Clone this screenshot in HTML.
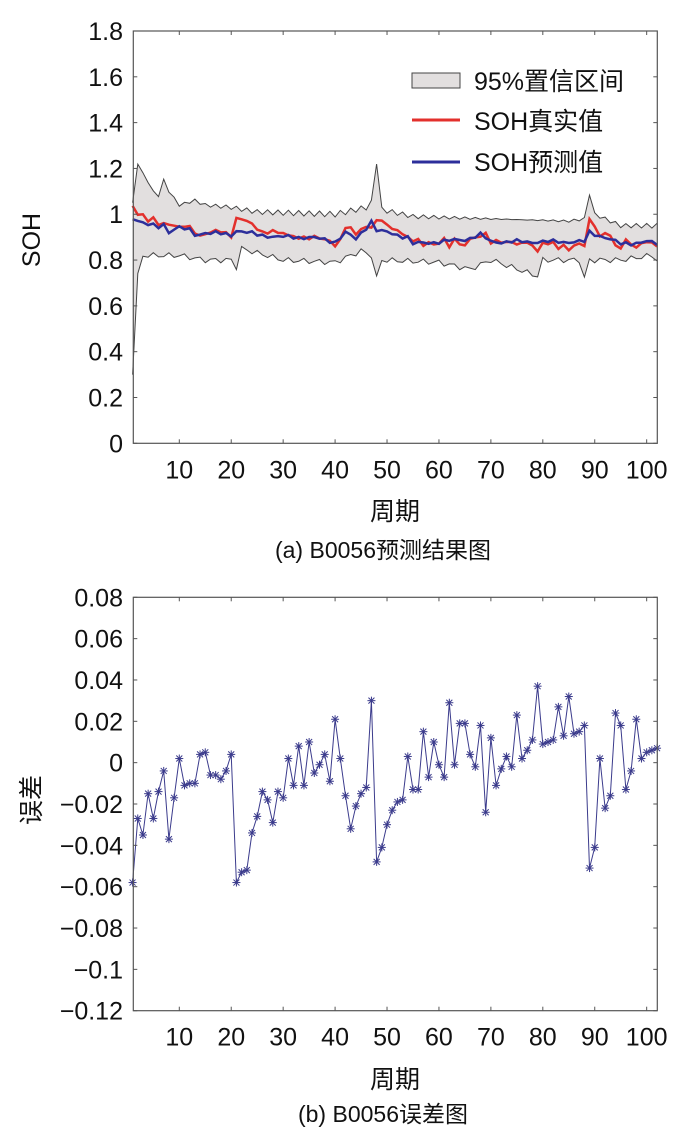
<!DOCTYPE html>
<html><head><meta charset="utf-8"><style>
html,body{margin:0;padding:0;background:#fff;}
svg{display:block;font-family:"Liberation Sans","Noto Sans CJK SC",sans-serif;}
</style></head><body>
<svg id="s" width="700" height="1129" viewBox="0 0 700 1129" xmlns="http://www.w3.org/2000/svg"></svg>
<script>
const S=document.getElementById('s');
let h='';
const L=133.3,R=657.3;
const X=i=>179.3+(i-10)*5.193;
const T0=31,B0=443.3;const Y1=v=>B0-v*(B0-T0)/1.8;
const T1=597.3,B1=1010.7;const Y2=v=>T1+(0.08-v)*(B1-T1)/0.2;
const err=[-0.058,-0.027,-0.035,-0.015,-0.027,-0.014,-0.004,-0.037,-0.017,0.002,-0.011,-0.010,-0.010,0.004,0.005,-0.006,-0.006,-0.008,-0.004,0.004,-0.058,-0.053,-0.052,-0.034,-0.026,-0.014,-0.018,-0.029,-0.014,-0.017,0.002,-0.011,0.008,-0.011,0.010,-0.005,-0.001,0.004,-0.009,0.021,0.002,-0.016,-0.032,-0.021,-0.015,-0.012,0.030,-0.048,-0.041,-0.030,-0.023,-0.019,-0.018,0.003,-0.013,-0.013,0.015,-0.007,0.010,-0.001,-0.007,0.029,-0.001,0.019,0.019,0.004,-0.002,0.018,-0.024,0.012,-0.011,-0.003,0.003,-0.002,0.023,0.002,0.006,0.011,0.037,0.009,0.010,0.011,0.027,0.013,0.032,0.014,0.015,0.018,-0.051,-0.041,0.002,-0.022,-0.016,0.024,0.018,-0.013,-0.004,0.021,0.002,0.005,0.006,0.007];
const N=err.length;
const kb=[[1,0.98],[2,0.98],[3,0.96],[5,0.95],[6,0.94],[7,0.96],[8,0.92],[9,0.94],[10,0.94],[12,0.93],[13,0.91],[15,0.92],[20,0.91],[21,0.93],[25,0.91],[30,0.90],[35,0.90],[40,0.88],[42,0.92],[44,0.89],[47,0.97],[48,0.93],[50,0.92],[54,0.9],[55,0.87],[60,0.88],[65,0.89],[68,0.91],[70,0.88],[80,0.88],[88,0.88],[89,0.92],[92,0.9],[95,0.87],[100,0.88],[102,0.87]];
function interp(k,i){for(let j=0;j<k.length-1;j++){if(i>=k[j][0]&&i<=k[j+1][0]){const t=(i-k[j][0])/(k[j+1][0]-k[j][0]);return k[j][1]+t*(k[j+1][1]-k[j][1]);}}return k[k.length-1][1];}
const jit=i=>Math.sin(i*2.7)*0.006+Math.sin(i*5.3)*0.005;
const blue=[],red=[],up=[],lo=[];
const ku=[[1,1.05],[2,1.22],[3,1.18],[5,1.1],[6,1.08],[7,1.15],[8,1.1],[10,1.04],[13,1.06],[15,1.04],[20,1.03],[25,1.01],[40,1.0],[46,1.03],[47,1.05],[48,1.23],[49,1.02],[55,0.99],[70,0.98],[85,0.97],[88,0.98],[89,1.09],[90,1.0],[95,0.95],[102,0.95]];
const kl=[[1,0.3],[2,0.73],[3,0.82],[10,0.82],[15,0.8],[20,0.8],[21,0.77],[22,0.85],[30,0.8],[40,0.79],[45,0.84],[47,0.82],[48,0.72],[49,0.8],[60,0.79],[66,0.76],[70,0.8],[79,0.73],[80,0.8],[87,0.8],[88,0.72],[89,0.8],[95,0.8],[101,0.82],[102,0.8]];
for(let i=1;i<=N;i++){const b=interp(kb,i)+jit(i);blue.push(b);red.push(b-err[i-1]);
up.push(interp(ku,i)+Math.sin(i*3.1)*0.012);lo.push(interp(kl,i)+Math.sin(i*4.1)*0.012);}
lo[0]=0.3;
const pts=(a,f)=>a.map((v,k)=>X(k+1).toFixed(1)+','+f(v).toFixed(1)).join(' ');
let poly=pts(up,Y1)+' '+lo.map((v,k)=>[X(k+1),Y1(v)]).reverse().map(p=>p[0].toFixed(1)+','+p[1].toFixed(1)).join(' ');
h+=`<polygon points="${poly}" fill="#e2dfdf" stroke="none"/>`;
h+=`<polyline points="${pts(up,Y1)}" fill="none" stroke="#444" stroke-width="1"/>`;
h+=`<polyline points="${pts(lo,Y1)}" fill="none" stroke="#444" stroke-width="1"/>`;
h+=`<polyline points="${pts(red,Y1)}" fill="none" stroke="#e3302c" stroke-width="2.5"/>`;
h+=`<polyline points="${pts(blue,Y1)}" fill="none" stroke="#2d2f9b" stroke-width="2.5"/>`;
const FS=25;
function axes(T,B){let s=`<rect x="${L}" y="${T}" width="${R-L}" height="${B-T}" fill="none" stroke="#555" stroke-width="1.2"/>`;
for(let t=10;t<=100;t+=10){s+=`<line x1="${X(t)}" x2="${X(t)}" y1="${B}" y2="${B-4}" stroke="#555"/><line x1="${X(t)}" x2="${X(t)}" y1="${T}" y2="${T+4}" stroke="#555"/>`;
s+=`<text x="${X(t)}" y="${B+35}" font-size="${FS}" text-anchor="middle" fill="#111">${t}</text>`;}return s;}
h+=axes(T0,B0);
for(let k=0;k<=9;k++){const v=k*0.2,y=Y1(v);const lab=k==0?'0':k==5?'1':v.toFixed(1);
h+=`<line x1="${L}" x2="${L+4}" y1="${y}" y2="${y}" stroke="#555"/><line x1="${R}" x2="${R-4}" y1="${y}" y2="${y}" stroke="#555"/>`;
h+=`<text x="123" y="${y+9}" font-size="${FS}" text-anchor="end" fill="#111">${lab}</text>`;}
h+=`<text transform="translate(40,240) rotate(-90)" font-size="${FS}" text-anchor="middle" fill="#111">SOH</text>`;
h+=`<text x="395" y="520" font-size="25" text-anchor="middle" fill="#111">周期</text>`;
h+=`<text x="383" y="558" font-size="23" text-anchor="middle" fill="#111">(a) B0056预测结果图</text>`;
h+=`<rect x="412" y="73" width="48" height="15" fill="#e2dfdf" stroke="#444" stroke-width="1"/>`;
h+=`<text x="474" y="90" font-size="${FS}" fill="#111">95%置信区间</text>`;
h+=`<line x1="412" x2="460" y1="120" y2="120" stroke="#e3302c" stroke-width="3"/><text x="474" y="130" font-size="${FS}" fill="#111">SOH真实值</text>`;
h+=`<line x1="412" x2="460" y1="162" y2="162" stroke="#2d2f9b" stroke-width="3"/><text x="474" y="171" font-size="${FS}" fill="#111">SOH预测值</text>`;
h+=`<polyline points="${pts(err,Y2)}" fill="none" stroke="#3b3b8c" stroke-width="1"/>`;
err.forEach((v,k)=>{const x=X(k+1),y=Y2(v),r=4;
h+=`<g stroke="#3b3b8c" stroke-width="1"><line x1="${x-r}" x2="${x+r}" y1="${y}" y2="${y}"/><line x1="${x}" x2="${x}" y1="${y-r}" y2="${y+r}"/><line x1="${x-3}" x2="${x+3}" y1="${y-3}" y2="${y+3}"/><line x1="${x-3}" x2="${x+3}" y1="${y+3}" y2="${y-3}"/></g>`;});
h+=axes(T1,B1);
const yl=['0.08','0.06','0.04','0.02','0','−0.02','−0.04','−0.06','−0.08','−0.1','−0.12'];
yl.forEach((lab,k)=>{const y=T1+k*(B1-T1)/10;
h+=`<line x1="${L}" x2="${L+4}" y1="${y}" y2="${y}" stroke="#555"/><line x1="${R}" x2="${R-4}" y1="${y}" y2="${y}" stroke="#555"/>`;
h+=`<text x="123" y="${y+9}" font-size="${FS}" text-anchor="end" fill="#111">${lab}</text>`;});
h+=`<text transform="translate(40,800) rotate(-90)" font-size="25" text-anchor="middle" fill="#111">误差</text>`;
h+=`<text x="395" y="1088" font-size="25" text-anchor="middle" fill="#111">周期</text>`;
h+=`<text x="383" y="1122" font-size="23" text-anchor="middle" fill="#111">(b) B0056误差图</text>`;
S.innerHTML=h;
</script>
</body></html>
